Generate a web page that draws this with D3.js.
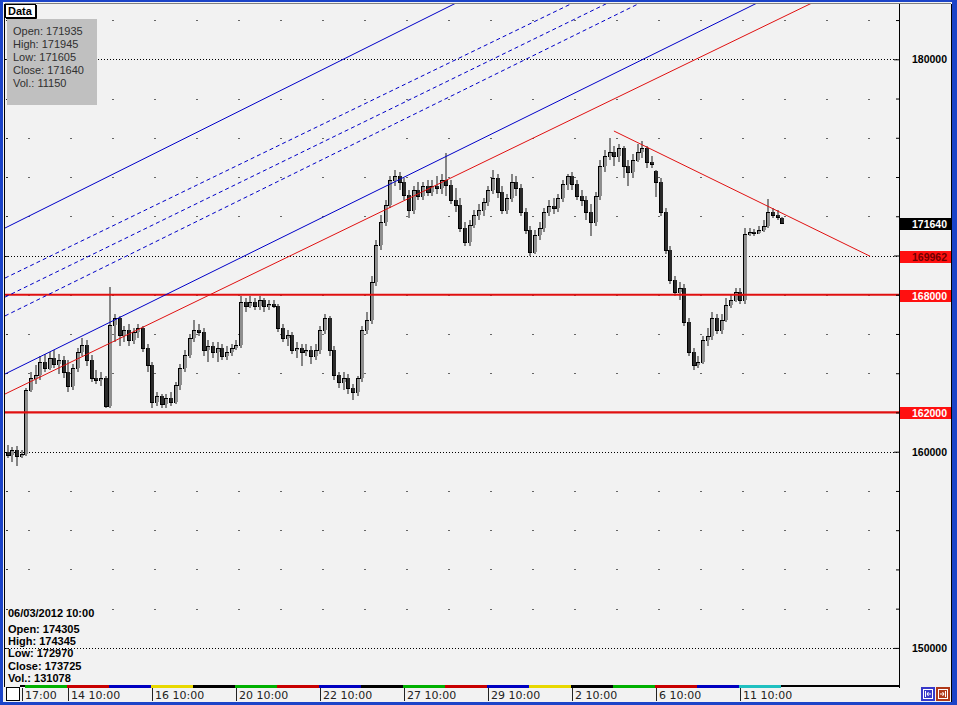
<!DOCTYPE html>
<html><head><meta charset="utf-8">
<script src="https://cdn.jsdelivr.net/npm/d3@7"></script>
<style>
html,body{margin:0;padding:0;background:#f2f2f2;overflow:hidden}
svg{display:block}
</style></head><body>
<svg id="c" width="957" height="705"></svg>
<script>
// ---------- DATA ----------
const open=[159970,159820,160070,159760,159870,163130,163740,163900,164560,164250,
164760,164460,164660,164050,163330,164250,165070,165430,164660,163740,
163640,163740,162310,166450,166800,165940,166190,165680,166090,166290,
165270,164410,162520,162820,162420,162720,162520,163390,164250,164920,
165780,166190,166090,165170,165370,165070,165270,164860,165070,165270,
165430,167620,167410,167620,167410,167720,167410,167520,167410,166290,
165780,165940,165170,165270,165070,165170,164860,165170,166190,166800,
165170,163900,163540,163740,163230,163030,163740,166190,166700,168640,
170530,171700,172570,173840,174040,173740,173080,172310,173330,173020,
173530,173230,173530,173430,173840,173590,172820,172570,171390,170680,
171550,172060,172310,172720,173330,173940,173230,172310,172920,173740,
173430,172210,171290,170170,171040,171390,172210,172510,172410,172920,
173640,174040,173640,173020,172820,172210,171700,173020,174550,175060,
175270,175060,175470,174550,174250,174860,175270,175470,174760,174305,
173725,172210,170270,168740,168130,168330,166600,165070,164410,164560,
165680,165880,166800,166190,166700,167470,167720,168130,167720,171090,
171190,171140,171290,171490,172210,172060,171935];
const high=[160330,160220,160270,160070,163230,164050,164410,164860,164970,165070,
165170,164970,164860,164660,164460,165270,165780,165680,164920,164150,
164050,163840,168380,167010,166900,166390,166500,166290,166500,166390,
165480,164560,163030,162930,162930,163030,163540,164460,165170,165990,
166700,166500,166290,165680,165580,165580,165480,165370,165480,165680,
167920,167820,167920,167820,167920,167820,167720,167720,167520,166500,
166190,166090,165580,165480,165480,165370,165480,166390,167010,166900,
165370,164050,164050,163950,163440,163840,166390,167110,168940,170780,
172060,172820,174040,174350,174250,173940,173330,173530,173740,173740,
173840,173840,174040,174150,175220,173840,173430,172920,171700,171800,
172310,172620,172920,173530,174350,174150,173530,173130,174150,174040,
173640,172410,171490,171290,171700,172410,172820,172920,173130,173840,
174150,174250,173840,173330,173020,172620,173230,174860,175370,175980,
175570,175680,175570,174860,175170,175680,175830,175570,175060,174345,
173940,172410,170470,168940,168640,168540,166800,165270,164860,165880,
166290,167110,167010,167010,167820,168030,168330,168330,171390,171390,
171340,171490,171800,172870,172410,172310,171945];
const low=[159660,159460,159250,159660,159760,163030,163440,163640,164050,164150,
164250,163950,163740,163030,163130,164050,164860,164350,163540,163440,
163330,162210,162210,165580,165370,165580,165370,165480,165780,165070,
164050,162210,162310,162210,162210,162310,162420,163130,164050,164760,
165580,165880,164860,164560,164760,164560,164660,164660,164860,165170,
165270,167110,167310,167210,167210,167110,167210,167310,166090,165580,
165370,164970,164760,164350,164860,164460,164660,164970,165990,164860,
163640,163230,163130,162930,162620,162820,163540,165990,166500,168430,
170270,171490,172410,173530,173330,172820,171900,172110,172820,172820,
173020,173020,173130,173130,173020,172620,172210,171190,170470,170470,
171390,171800,172000,172510,173130,172920,172110,172110,172720,173020,
172000,171090,169960,170070,170780,171190,172000,172110,172210,172720,
173330,173330,172820,172510,171800,170980,171490,172820,174250,174860,
174550,174760,173940,173530,173940,174760,174960,174450,174450,172970,
172000,170070,168540,167920,167720,166390,164860,164150,164250,164460,
165370,165680,165990,165990,166600,167310,167620,167520,167520,170980,
170980,171090,171190,171390,171900,171800,171605];
const close=[159820,160070,159760,159870,163130,163740,163900,164560,164250,164760,
164460,164660,164050,163330,164250,165070,165430,164660,163740,163640,
163740,162310,166450,166800,165940,166190,165680,166090,166290,165270,
164410,162520,162820,162420,162720,162520,163390,164250,164920,165780,
166190,166090,165170,165370,165070,165270,164860,165070,165270,165430,
167620,167410,167620,167410,167720,167410,167520,167410,166290,165780,
165940,165170,165270,165070,165170,164860,165170,166190,166800,165170,
163900,163540,163740,163230,163030,163740,166190,166700,168640,170530,
171700,172570,173840,174040,173740,173080,172310,173330,173020,173530,
173230,173530,173430,173840,173590,172820,172570,171390,170680,171550,
172060,172310,172720,173330,173940,173230,172310,172920,173740,173430,
172210,171290,170170,171040,171390,172210,172510,172410,172920,173640,
174040,173640,173020,172820,172210,171700,173020,174550,175060,175270,
175060,175470,174550,174250,174860,175270,175470,174760,174660,173725,
172210,170270,168740,168130,168330,166600,165070,164410,164560,165680,
165880,166800,166190,166700,167470,167720,168130,167720,171090,171190,
171140,171290,171490,172210,172060,171950,171640];
const lastVolume = 11150;
const hoverIndex = 139, hoverDate = "06/03/2012 10:00", hoverVolume = 131078;

const timeLabels=["17:00","14 10:00","16 10:00","20 10:00","22 10:00","27 10:00","29 10:00","2 10:00","6 10:00","11 10:00"];
const timeLabelIdx=[3,13,31,49,67,85,103,121,139,157];
const dayColors=["#00b000","#c80000","#0000c0","#e8d800","#000000","#00b000","#c80000","#0000c0","#000000","#00b000","#c80000","#0000c0","#e8d800","#000000","#00b000","#c80000","#0000c0","#20c0c0"];
const dayStart=3.75, barsPerDay=9;
const priceLabels=[150000,160000,170000,180000];
const hLevels=[168000,162000];
// trend lines: [index, value] endpoints
const blueLines=[[[-0.6,171400],[96.5,182920]],[[-0.6,163960],[160.6,182870]]];
const dashedLines=[[[-0.6,168850],[121.1,182870]],[[-0.6,167880],[128.6,182870]],[[-0.6,166920],[135.5,182870]]];
const redLine=[[-0.6,162940],[172.35,182870]];
const downLine=[[129.9,176345],[184.8,169962]];
const tags=[{v:171640,bg:"#000",fg:"#fff"},{v:169962,bg:"#ff1010",fg:"#700000"},{v:168000,bg:"#ff1010",fg:"#fff"},{v:162000,bg:"#ff1010",fg:"#fff"}];

// ---------- LAYOUT ----------
const L=5,R=899,T=4,B=685;
const x=d3.scaleLinear().domain([-0.6,191]).range([L,R]);
const y=d3.scaleLinear().domain([150000,180000]).range([647.9,59.3]);
const svg=d3.select("#c");
svg.append("rect").attr("width",957).attr("height",705).attr("fill","#f2f2f2");
svg.append("defs").append("clipPath").attr("id","clip").append("rect")
  .attr("x",L).attr("y",T).attr("width",R-L).attr("height",B-T);

// grid
const tickVals=d3.range(150000,182001,2000);
const grid=svg.append("g").attr("shape-rendering","crispEdges");
grid.selectAll("line.dl").data(priceLabels).join("line")
  .attr("x1",L).attr("x2",R).attr("y1",d=>Math.round(y(d))+0.5).attr("y2",d=>Math.round(y(d))+0.5)
  .attr("stroke","#000").attr("stroke-dasharray","1,2");
const dayIdx=d3.range(0,21).map(k=>dayStart+0.55+k*barsPerDay);
const dots=[];
dayIdx.forEach(di=>tickVals.forEach(v=>{ if(priceLabels.indexOf(v)<0) dots.push([di,v]); }));
grid.selectAll("rect.dot").data(dots).join("rect")
  .attr("x",d=>Math.round(x(d[0]))).attr("y",d=>Math.round(y(d[1])))
  .attr("width",2).attr("height",1).attr("fill","#666");
grid.selectAll("rect.lt").data(tickVals).join("rect")
  .attr("x",L+1).attr("y",d=>Math.round(y(d))).attr("width",2).attr("height",1).attr("fill","#333");

// candles
const idx=d3.range(open.length);
const cg=svg.append("g").attr("clip-path","url(#clip)").attr("shape-rendering","crispEdges");
cg.selectAll("rect.w").data(idx).join("rect")
  .attr("x",i=>Math.round(x(i))-1).attr("width",2)
  .attr("y",i=>Math.round(y(high[i]))).attr("height",i=>Math.round(y(low[i]))-Math.round(y(high[i])))
  .attr("fill","#858585");
cg.selectAll("rect.b").data(idx).join("rect")
  .attr("x",i=>Math.round(x(i))-2).attr("width",4)
  .attr("y",i=>Math.round(y(Math.max(open[i],close[i]))))
  .attr("height",i=>Math.max(1,Math.round(y(Math.min(open[i],close[i])))-Math.round(y(Math.max(open[i],close[i])))))
  .attr("fill",i=>close[i]>=open[i]?"#8e8e8e":"#2a2a2a");
cg.selectAll("line.bl").data(idx).join("line")
  .attr("x1",i=>Math.round(x(i))-1.5).attr("x2",i=>Math.round(x(i))-1.5)
  .attr("y1",i=>Math.round(y(Math.max(open[i],close[i])))).attr("y2",i=>Math.round(y(Math.min(open[i],close[i])))+1)
  .attr("stroke","#000");
cg.selectAll("line.oc").data(idx).join("line")
  .attr("x1",i=>Math.round(x(i))-2).attr("x2",i=>Math.round(x(i))+2)
  .attr("y1",i=>Math.round(y(close[i]))+0.5).attr("y2",i=>Math.round(y(close[i]))+0.5)
  .attr("stroke","#000");

// horizontal levels
svg.append("g").selectAll("line").data(hLevels).join("line")
  .attr("x1",L).attr("x2",R).attr("y1",d=>y(d)).attr("y2",d=>y(d))
  .attr("stroke","#e01010").attr("stroke-width",2.2);

// trend lines
const lg=svg.append("g").attr("clip-path","url(#clip)");
const ln=d3.line().x(d=>x(d[0])).y(d=>y(d[1]));
lg.selectAll("path.bl").data(blueLines).join("path").attr("d",ln).attr("fill","none").attr("stroke","#0000c8").attr("stroke-width",1);
lg.selectAll("path.db").data(dashedLines).join("path").attr("d",ln).attr("fill","none").attr("stroke","#0000c8").attr("stroke-width",1).attr("stroke-dasharray","4,3");
lg.append("path").attr("d",ln(redLine)).attr("fill","none").attr("stroke","#e01010").attr("stroke-width",1);
lg.append("path").attr("d",ln(downLine)).attr("fill","none").attr("stroke","#e01010").attr("stroke-width",1);

// right axis
const ax=svg.append("g").attr("transform",`translate(${R},0)`)
  .call(d3.axisLeft(y).tickValues(tickVals).tickSize(3).tickFormat(""));
ax.select(".domain").remove();
ax.selectAll(".tick line").attr("stroke","#000").attr("x2",d=>d%10000===0?-5:-3);
svg.append("g").selectAll("text").data(priceLabels).join("text")
  .attr("x",947).attr("y",d=>y(d)+4).attr("text-anchor","end")
  .attr("font-family","Liberation Sans, Arial, sans-serif").attr("font-weight","bold").attr("font-size",10.5)
  .attr("fill","#000").text(d=>d);
const tg=svg.append("g").selectAll("g").data(tags).join("g");
tg.append("rect").attr("x",R+1).attr("width",951-R-1).attr("y",d=>Math.round(y(d.v))-5).attr("height",12).attr("fill",d=>d.bg);
tg.append("text").attr("x",947).attr("y",d=>Math.round(y(d.v))+5).attr("text-anchor","end")
  .attr("font-family","Liberation Sans, Arial, sans-serif").attr("font-weight","bold").attr("font-size",10.5)
  .attr("fill",d=>d.fg).text(d=>d.v);

// frame lines
const fr=svg.append("g").attr("shape-rendering","crispEdges");
fr.append("line").attr("x1",L-0.5).attr("x2",L-0.5).attr("y1",T).attr("y2",B+2).attr("stroke","#000");
fr.append("line").attr("x1",R+0.5).attr("x2",R+0.5).attr("y1",T).attr("y2",B+3).attr("stroke","#000");
fr.append("line").attr("x1",951.5).attr("x2",951.5).attr("y1",T).attr("y2",702).attr("stroke","#000");
fr.append("line").attr("x1",L).attr("x2",951).attr("y1",T-0.5).attr("y2",T-0.5).attr("stroke","#808080");

// x axis strip
const xs=svg.append("g").attr("shape-rendering","crispEdges");
xs.append("rect").attr("x",20).attr("y",685).attr("width",R-20).attr("height",2).attr("fill","#000");
xs.selectAll("rect.seg").data(dayColors).join("rect")
  .attr("x",(d,k)=>x(dayStart+k*barsPerDay)).attr("width",(d,k)=>x(dayStart+(k+1)*barsPerDay)-x(dayStart+k*barsPerDay))
  .attr("y",685).attr("height",3).attr("fill",d=>d);
xs.append("rect").attr("x",6.5).attr("y",687.5).attr("width",13).attr("height",13).attr("fill","#fff").attr("stroke","#000");
xs.selectAll("line.tk").data(timeLabelIdx).join("line")
  .attr("x1",i=>Math.round(x(i))+0.5).attr("x2",i=>Math.round(x(i))+0.5).attr("y1",688).attr("y2",701).attr("stroke","#222");
svg.append("g").selectAll("text").data(timeLabels).join("text")
  .attr("x",(d,k)=>Math.round(x(timeLabelIdx[k]))+3).attr("y",699)
  .attr("font-family","DejaVu Sans, sans-serif").attr("font-size",11).attr("fill","#222").text(d=>d);

// buttons
const bt=svg.append("g");
bt.append("rect").attr("x",921).attr("y",687).attr("width",14).attr("height",14).attr("fill","#3838c8");
bt.append("rect").attr("x",936).attr("y",687).attr("width",14).attr("height",14).attr("fill","#b03818");
bt.append("rect").attr("x",923.5).attr("y",689.5).attr("width",9).attr("height",9).attr("fill","none").attr("stroke","#fff");
bt.append("rect").attr("x",938.5).attr("y",689.5).attr("width",9).attr("height",9).attr("fill","none").attr("stroke","#fff");
bt.append("path").attr("d","M925.5,691 V697 M927,694 H931 M928.5,692 L927,694 L928.5,696").attr("stroke","#fff").attr("fill","none");
bt.append("path").attr("d","M945.5,691 V697 M940,694 H944 M942.5,692 L944,694 L942.5,696").attr("stroke","#fff").attr("fill","none");

// data tab and info box
svg.append("rect").attr("x",5.5).attr("y",4.5).attr("width",30).attr("height",13).attr("fill","#fff").attr("stroke","#000");
svg.append("path").attr("d","M36.5,5 V18.5 H6").attr("stroke","#000").attr("fill","none");
svg.append("text").attr("x",8).attr("y",15).attr("font-family","Liberation Sans, Arial, sans-serif").attr("font-weight","bold").attr("font-size",11).text("Data");
svg.append("rect").attr("x",7).attr("y",19).attr("width",90).attr("height",86).attr("fill","#c0c0c0");
const last=open.length-1;
const infoLines=["Open: "+open[last],"High: "+high[last],"Low: "+low[last],"Close: "+close[last],"Vol.: "+lastVolume];
svg.append("g").selectAll("text").data(infoLines).join("text")
  .attr("x",13).attr("y",(d,k)=>35+k*13)
  .attr("font-family","Liberation Sans, Arial, sans-serif").attr("font-size",11).attr("fill","#303030").text(d=>d);
const hov=[hoverDate,"","Open: "+open[hoverIndex],"High: "+high[hoverIndex],"Low: "+low[hoverIndex],"Close: "+close[hoverIndex],"Vol.: "+hoverVolume];
const hy=[617,0,633,645,657,670,682];
svg.append("g").selectAll("text").data(hov).join("text")
  .attr("x",8).attr("y",(d,k)=>hy[k])
  .attr("font-family","Liberation Sans, Arial, sans-serif").attr("font-weight","bold").attr("font-size",11).attr("fill","#000").text(d=>d);

// window border
const wb=svg.append("g").attr("fill","#1c44c8");
wb.append("rect").attr("x",0).attr("y",0).attr("width",3).attr("height",705);
wb.append("rect").attr("x",952).attr("y",0).attr("width",5).attr("height",705);
wb.append("rect").attr("x",0).attr("y",702).attr("width",957).attr("height",3);
wb.append("rect").attr("x",0).attr("y",0).attr("width",957).attr("height",2);
</script>
</body></html>
